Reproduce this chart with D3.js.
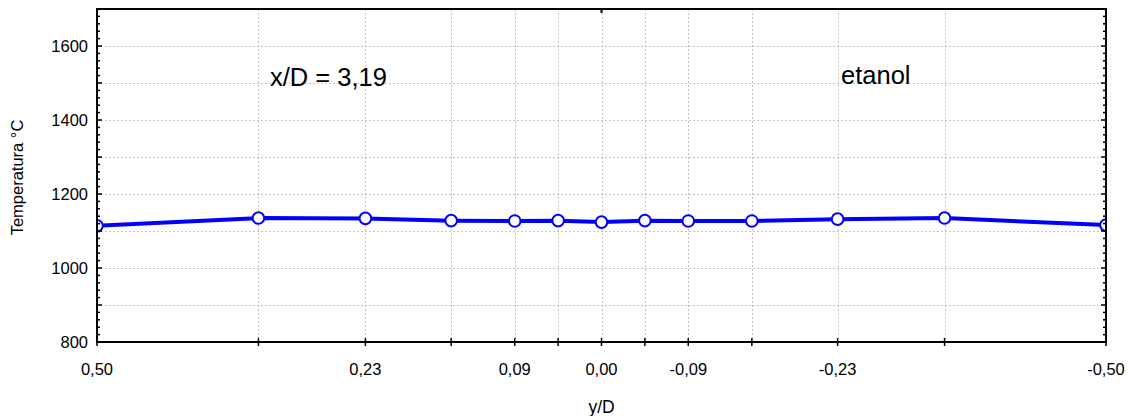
<!DOCTYPE html>
<html>
<head>
<meta charset="utf-8">
<script src="https://cdn.jsdelivr.net/npm/d3@7"></script>
<style>
  html, body { margin: 0; padding: 0; background: #fff; }
  svg { display: block; font-family: "Liberation Sans", Arial, sans-serif; }
</style>
</head>
<body>
<svg id="chart" width="1131" height="416"></svg>
<script>
// Radial temperature profile, ethanol flame, x/D = 3,19
const positions = [0.5, 0.34, 0.234, 0.149, 0.086, 0.043, 0, -0.043, -0.086, -0.149, -0.234, -0.34, -0.5];
const temperatures = [1114, 1135, 1134, 1128, 1127, 1128, 1124, 1128, 1127, 1127, 1132, 1135, 1116];
const labelledPositions = [0.5, 0.234, 0.086, 0, -0.086, -0.234, -0.5];
const tempLabels = [800, 1000, 1200, 1400, 1600];
const tempDomain = [800, 1700];
const title = "x/D = 3,19";
const fuel = "etanol";
const xTitle = "y/D";
const yTitle = "Temperatura °C";

const svg = d3.select("#chart");
const m = { left: 97, right: 1106, top: 9, bottom: 342 };

const x = d3.scaleLinear().domain([0.5, -0.5]).range([m.left, m.right]);
const y = d3.scaleLinear().domain(tempDomain).range([m.bottom, m.top]);

// decimal comma, plain hyphen for the minus sign
const locale = d3.formatLocale({ decimal: ",", thousands: ".", grouping: [3], currency: ["", ""], minus: "-" });
const fmt = locale.format(".2f");

// grid
const grid = svg.append("g")
  .attr("stroke", "#c4c4c4").attr("stroke-width", 1).attr("stroke-dasharray", "2,2");
grid.selectAll("line.h")
  .data(d3.range(900, 1701, 100))
  .join("line")
  .attr("x1", m.left).attr("x2", m.right)
  .attr("y1", d => Math.round(y(d)) + 0.5).attr("y2", d => Math.round(y(d)) + 0.5);
grid.selectAll("line.v")
  .data(positions.filter(p => Math.abs(p) < 0.5))
  .join("line")
  .attr("y1", m.top).attr("y2", m.bottom)
  .attr("x1", d => Math.round(x(d)) + 0.5).attr("x2", d => Math.round(x(d)) + 0.5);

// series, clipped to the plot frame
svg.append("clipPath").attr("id", "plot")
  .append("rect").attr("x", m.left).attr("y", m.top)
  .attr("width", m.right - m.left).attr("height", m.bottom - m.top);
const data = positions.map((p, i) => ({ p, t: temperatures[i] }));
const series = svg.append("g").attr("clip-path", "url(#plot)");
series.append("path")
  .datum(data)
  .attr("fill", "none").attr("stroke", "#0000ff").attr("stroke-width", 4)
  .attr("stroke-linejoin", "round")
  .attr("d", d3.line().x(d => x(d.p)).y(d => y(d.t)));
series.selectAll("circle")
  .data(data)
  .join("circle")
  .attr("cx", d => x(d.p)).attr("cy", d => y(d.t)).attr("r", 5.8)
  .attr("fill", "#fff").attr("stroke", "#0000ff").attr("stroke-width", 2);

// left and right axes: inward ticks, major every 100, minor every 20
const axes = svg.append("g").attr("stroke", "#000");
[m.left, m.right].forEach(xp => {
  const dir = xp === m.left ? 1 : -1;
  axes.selectAll(null)
    .data(d3.range(800, 1701, 20))
    .join("line")
    .attr("x1", xp).attr("x2", d => xp + dir * (d % 100 === 0 ? 5 : 3))
    .attr("y1", d => y(d)).attr("y2", d => y(d))
    .attr("stroke-width", 1.5);
});
// bottom ticks crossing the axis
axes.selectAll(null)
  .data(positions)
  .join("line")
  .attr("x1", d => x(d)).attr("x2", d => x(d))
  .attr("y1", m.bottom - 4).attr("y2", m.bottom + 4)
  .attr("stroke-width", 1.5);
// top tick at the centreline
axes.append("line")
  .attr("x1", x(0)).attr("x2", x(0))
  .attr("y1", m.top).attr("y2", m.top + 4)
  .attr("stroke-width", 2);
// frame
axes.append("rect")
  .attr("x", m.left).attr("y", m.top)
  .attr("width", m.right - m.left).attr("height", m.bottom - m.top)
  .attr("fill", "none").attr("stroke-width", 2);

// tick labels
svg.append("g").selectAll("text")
  .data(tempLabels)
  .join("text")
  .attr("x", 88).attr("y", d => y(d)).attr("dy", "0.35em")
  .attr("text-anchor", "end").attr("font-size", 16.5).attr("fill", "#000")
  .text(d => d);
svg.append("g").selectAll("text")
  .data(labelledPositions)
  .join("text")
  .attr("x", d => x(d)).attr("y", 375)
  .attr("text-anchor", "middle").attr("font-size", 16.5).attr("fill", "#000")
  .text(d => fmt(d));

// axis titles
svg.append("text")
  .attr("x", x(0)).attr("y", 413)
  .attr("text-anchor", "middle").attr("font-size", 17.5)
  .text(xTitle);
svg.append("text")
  .attr("transform", `translate(23, ${(m.top + m.bottom) / 2 + 2}) rotate(-90)`)
  .attr("text-anchor", "middle").attr("font-size", 16.5)
  .text(yTitle);

// annotations
svg.append("text").attr("x", 270).attr("y", 86).attr("font-size", 25.5).text(title);
svg.append("text").attr("x", 841).attr("y", 84).attr("font-size", 25.5).text(fuel);
</script>
</body>
</html>
